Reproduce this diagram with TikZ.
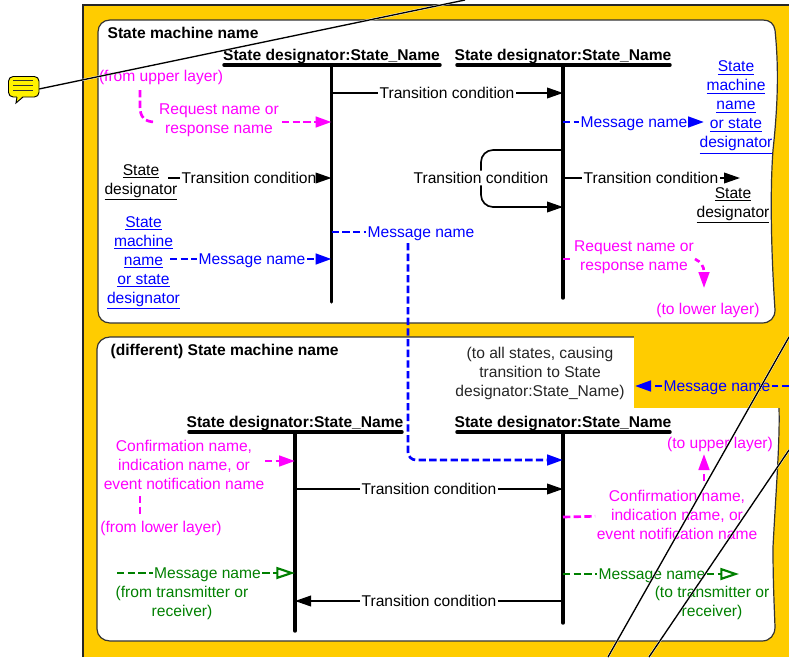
\documentclass[tikz,border=0pt]{standalone}
\usepackage{fontspec}
\setmainfont{Liberation Sans}
\usetikzlibrary{arrows.meta}
\definecolor{frameOrange}{RGB}{255,204,0}
\definecolor{msgBlue}{RGB}{0,0,255}
\definecolor{layerPink}{RGB}{255,0,255}
\definecolor{phyGreen}{RGB}{0,128,0}
\begin{document}
\begin{tikzpicture}[x=0.75pt,y=-0.75pt,%%
  textStyle/.style={inner sep=1pt,align=center,font=\fontsize{11.7}{14.25}\selectfont},%%
  titleStyle/.style={textStyle,font=\fontsize{11.7}{14.25}\selectfont\bfseries},%%
  blueText/.style={textStyle,text=msgBlue},%%
  pinkText/.style={textStyle,text=layerPink},%%
  greenText/.style={textStyle,text=phyGreen},%%
  msgLabel/.style={text depth=0pt},%%
  lifeStyle/.style={-,line width=2.6pt,line cap=round},%%
  solidStyle/.style={-,line width=1.25pt,draw=black},%%
  solidArrow/.style={solidStyle,-{Triangle[length=12pt,width=8pt]}},%%
  dashStyle/.style={-,line width=2pt,dash pattern=on 5.5pt off 2.5pt},%%
  blueArrow/.style={dashStyle,draw=msgBlue,-{Triangle[length=12pt,width=8pt,fill=msgBlue]}},%%
  pinkArrow/.style={dashStyle,draw=layerPink,-{Triangle[length=12pt,width=8pt,fill=layerPink]}},%%
  greenArrow/.style={dashStyle,draw=phyGreen,-{Triangle[open,length=14pt,width=9pt,line width=1.6pt]}},%%
  diagStyle/.style={-,line width=1pt,preaction={draw=white,line width=1.6pt}}%%
]
%%
%%
\pgfmathsetmacro{\xleft}{331.5}
\pgfmathsetmacro{\xright}{563}
\pgfmathsetmacro{\xlow}{295}
\pgfmathsetmacro{\ytop}{65}
\pgfmathsetmacro{\ybot}{432}
%%
\useasboundingbox (0,0) rectangle (789,657);
%% Draw the orange frame and the two white panels.
\fill[frameOrange] (83,5) rectangle (789,657);
\draw[line width=0.9pt,draw=black!85] (83,657) -- (83,5) -- (789,5);
\draw[fill=white,line width=0.9pt,draw=black!80] (110,20) -- (763,20)
  .. controls (770,20) and (774,24) .. (775,30)
  .. controls (778,60) and (779,95) .. (773,150)
  .. controls (770,190) and (771,250) .. (775,310)
  .. controls (775,318) and (770,323) .. (762,323)
  -- (110,323) .. controls (103,323) and (98,318) .. (98,311)
  -- (98,32) .. controls (98,25) and (103,20) .. (110,20) -- cycle;
\draw[fill=white,line width=0.9pt,draw=black!80] (110,337) -- (770,337)
  -- (779,408) .. controls (780,440) and (776,490) .. (773,547)
  .. controls (773,580) and (774,600) .. (775,627)
  .. controls (775,635) and (770,641) .. (762,641)
  -- (110,641) .. controls (103,641) and (97,636) .. (97,629)
  -- (97,349) .. controls (97,342) and (103,337) .. (110,337) -- cycle;
\fill[frameOrange] (633.5,336) rectangle (789,408);
%% Panel names.
\node[titleStyle,anchor=west] (upperName) at (106,33) {State machine name};
\node[titleStyle,anchor=west] (lowerName) at (109,351) {(different) State machine name};
%% Draw the four state lines.
\node[titleStyle] (stateA) at (\xleft,56) {State designator:State\_Name};
\node[titleStyle] (stateB) at (\xright,56) {State designator:State\_Name};
\node[titleStyle] (stateC) at (\xlow,423) {State designator:State\_Name};
\node[titleStyle] (stateD) at (\xright,423) {State designator:State\_Name};
\draw[lifeStyle] (224,\ytop) -- (440,\ytop);
\draw[lifeStyle] (457,\ytop) -- (670,\ytop);
\draw[lifeStyle] (189,\ybot) -- (402,\ybot);
\draw[lifeStyle] (457,\ybot) -- (670,\ybot);
\draw[lifeStyle] (\xleft,\ytop) -- (\xleft,302);
\draw[lifeStyle] (\xright,\ytop) -- (\xright,298);
\draw[lifeStyle] (\xlow,\ybot) -- (\xlow,631);
\draw[lifeStyle] (\xright,\ybot) -- (\xright,623);
%%
%% Upper panel, first state line.
\node[textStyle] (condTop) at (447,93) {Transition condition};
\coordinate (condTopA) at (\xleft,93);
\coordinate (condTopB) at (\xright,93);
\draw[solidStyle] (condTopA) -- (condTop);
\draw[solidArrow] (condTop) -- (condTopB);
\node[pinkText] (fromUpper) at (161,77) {(from upper layer)};
\node[pinkText] (requestA) at (219,120) {Request name or\\response name};
\coordinate (requestAEnd) at (\xleft,122);
\draw[dashStyle,draw=layerPink] (140,90) -- (140,107) .. controls (140,117) and (145,122) .. (155,122);
\draw[pinkArrow] (282,122) -- (requestAEnd);
\node[textStyle] (desigA) at (141,182.5) {\underline{State}\\\underline{designator}};
\node[textStyle] (condA) at (249,178) {Transition condition};
\coordinate (condAEnd) at (\xleft,178);
\draw[solidStyle] (168,178) -- (condA);
\draw[solidArrow] (condA) -- (condAEnd);
\node[blueText] (machineA) at (143.5,263) {\underline{State}\\\underline{machine}\\\underline{name}\\\underline{or state}\\\underline{designator}};
\node[blueText,msgLabel] (msgA) at (252,259) {Message name};
\coordinate (msgAEnd) at (\xleft,259);
\draw[dashStyle,draw=msgBlue] (170,259) -- (msgA);
\draw[blueArrow] (msgA) -- (msgAEnd);
%%
%% Upper panel, second state line.
\node[blueText,msgLabel] (msgB) at (634,122) {Message name};
\coordinate (msgBStart) at (\xright,122);
\coordinate (msgBEnd) at (704,122);
\draw[dashStyle,draw=msgBlue] (msgBStart) -- (msgB);
\draw[blueArrow] (msgB) -- (msgBEnd);
\node[blueText] (machineB) at (736,107.5) {\underline{State}\\\underline{machine}\\\underline{name}\\\underline{or state}\\\underline{designator}};
\node[textStyle] (condLoop) at (481,178) {Transition condition};
\coordinate (loopTop) at (\xright,150);
\coordinate (loopBottom) at (\xright,207);
\draw[solidStyle,rounded corners=9pt] (loopTop) -| (condLoop.north);
\draw[solidArrow,rounded corners=9pt] (condLoop.south) |- (loopBottom);
\node[textStyle] (condB) at (651,178) {Transition condition};
\coordinate (condBStart) at (\xright,178);
\coordinate (condBEnd) at (740,178);
\draw[solidStyle] (condBStart) -- (condB);
\draw[solidArrow] (condB) -- (condBEnd);
\node[textStyle] (desigB) at (733,205.5) {\underline{State}\\\underline{designator}};
\node[pinkText] (requestB) at (634,257) {Request name or\\response name};
\node[pinkText] (toLower) at (708,310) {(to lower layer)};
\coordinate (requestBStart) at (\xright,259);
\coordinate (requestBEnd) at (704,288);
\draw[dashStyle,draw=layerPink] (requestBStart) -- (571,259);
\draw[pinkArrow,dash pattern=on 4pt off 3pt] (695,259) .. controls (701,262) and (704,266) .. (requestBEnd);
%%
%% Message that runs across the two panels.
\node[blueText,msgLabel] (msgCross) at (421,232) {Message name};
\coordinate (msgCrossStart) at (\xleft,232);
\coordinate (msgCrossEnd) at (\xright,460);
\draw[dashStyle,draw=msgBlue] (msgCrossStart) -- (msgCross);
\draw[blueArrow,rounded corners=6pt] (408,243) |- (msgCrossEnd);
%%
%% Message from outside the lower panel.
\node[textStyle,text=black!85] (toAll) at (540,373) {(to all states, causing\\transition to State\\designator:State\_Name)};
\node[blueText,msgLabel] (msgAll) at (717,386) {Message name};
\coordinate (msgAllStart) at (789,386);
\coordinate (msgAllEnd) at (635,386);
\draw[dashStyle,draw=msgBlue] (msgAllStart) -- (msgAll);
\draw[blueArrow] (msgAll) -- (msgAllEnd);
%%
%% Lower panel, first state line.
\node[pinkText] (confirmA) at (184,465) {Confirmation name,\\indication name, or\\event notification name};
\coordinate (confirmAEnd) at (\xlow,461);
\draw[pinkArrow] (265,461) -- (confirmAEnd);
\node[pinkText] (fromLower) at (161,528) {(from lower layer)};
\draw[dashStyle,draw=layerPink] (140,496) -- (140,514);
\node[textStyle] (condC) at (429,489) {Transition condition};
\coordinate (condCStart) at (\xlow,489);
\coordinate (condCEnd) at (\xright,489);
\draw[solidStyle] (condCStart) -- (condC);
\draw[solidArrow] (condC) -- (condCEnd);
\node[greenText,msgLabel] (msgC) at (207.5,573) {Message name};
\coordinate (msgCEnd) at (\xlow,573);
\draw[dashStyle,draw=phyGreen] (117,573) -- (msgC);
\draw[greenArrow] (msgC) -- (msgCEnd);
\node[greenText] (fromPhy) at (182,602.5) {(from transmitter or\\receiver)};
\node[textStyle] (condD) at (429,601) {Transition condition};
\coordinate (condDStart) at (\xright,601);
\coordinate (condDEnd) at (\xlow,601);
\draw[solidStyle] (condDStart) -- (condD);
\draw[solidArrow] (condD) -- (condDEnd);
%%
%% Lower panel, second state line.
\node[pinkText] (toUpper) at (720,444) {(to upper layer)};
\node[pinkText] (confirmB) at (677,514.5) {Confirmation name,\\indication name, or\\event notification name};
\coordinate (confirmBStart) at (\xright,517);
\coordinate (confirmBEnd) at (704,454);
\draw[dashStyle,draw=layerPink] (confirmBStart) -- (confirmB);
\draw[pinkArrow] (704,481) -- (confirmBEnd);
\node[greenText,msgLabel] (msgD) at (652,574) {Message name};
\coordinate (msgDStart) at (\xright,574);
\coordinate (msgDEnd) at (739,574);
\draw[dashStyle,draw=phyGreen] (msgDStart) -- (msgD);
\draw[greenArrow] (msgD) -- (msgDEnd);
\node[greenText] (toPhy) at (712,602.5) {(to transmitter or\\receiver)};
%%
%% Draw the note icon and the long thin lines.
\coordinate (noteEnd) at (39,89);
\draw[fill=yellow,line width=0.7pt,rounded corners=3.5pt] (8.5,76.5) rectangle (39,97);
\fill[yellow] (17,96) -- (16,103) -- (23,96) -- cycle;
\draw[line width=0.7pt] (17,97) -- (16,103) -- (23,97);
\foreach \yline in {80,85,90} {
  \draw[line width=0.6pt,draw=black!80] (13,\yline) -- (33,\yline);
}
\coordinate (noteFar) at (465,0);
\draw[diagStyle] (noteEnd) -- (noteFar);
\coordinate (diagAUp) at (789,337);
\coordinate (diagADown) at (608,657);
\coordinate (diagBUp) at (789,450);
\coordinate (diagBDown) at (649,657);
\draw[diagStyle] (diagAUp) -- (diagADown);
\draw[diagStyle] (diagBUp) -- (diagBDown);
\end{tikzpicture}
\end{document}
